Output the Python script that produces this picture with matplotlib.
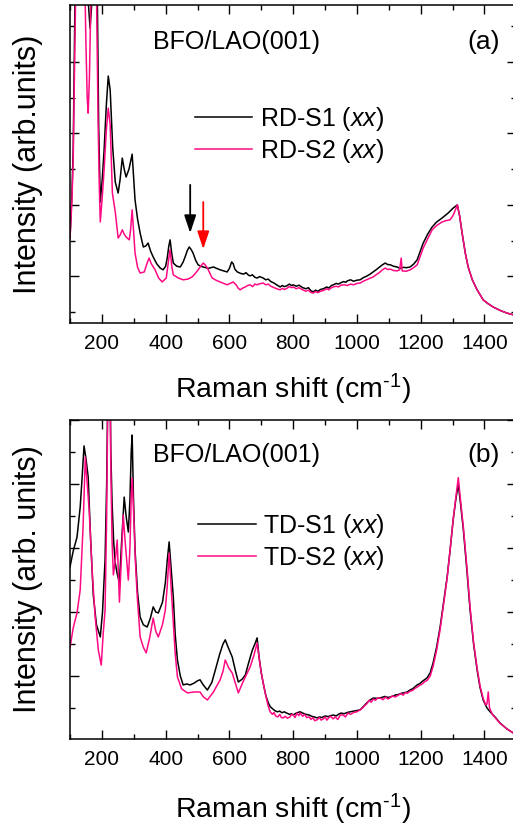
import matplotlib
matplotlib.use("Agg")
import matplotlib.pyplot as plt
from matplotlib.ticker import MultipleLocator, NullFormatter

plt.rcParams['font.family'] = ['Liberation Sans', 'DejaVu Sans']
plt.rcParams['mathtext.fontset'] = 'custom'
plt.rcParams['mathtext.rm'] = 'Liberation Sans'
plt.rcParams['mathtext.it'] = 'Liberation Sans:italic'

PINK = '#ff0a84'

# spectra as (Raman shift [cm-1], intensity [arb. units]) pairs
# (a) RD samples, xx geometry
rd_s1 = [(100, 307), (106, 430), (110, 554), (116, 1000), (125, 1400), (140, 1500), (150, 1200), (158, 960),
         (163, 895), (168, 960), (175, 1400), (182, 1300), (186, 960), (190, 620), (195, 408), (201, 470),
         (207, 554), (214, 680), (220, 761), (226, 722), (234, 560), (242, 464), (251, 433), (257, 470),
         (264, 531), (270, 500), (276, 478), (285, 500), (295, 542), (300, 470), (304, 414), (312, 360),
         (320, 321), (330, 282), (338, 285), (345, 293), (353, 270), (361, 254), (372, 235), (383, 223),
         (392, 218), (400, 228), (405, 251), (410, 285), (414, 302), (419, 265), (424, 237), (435, 228),
         (446, 226), (455, 240), (461, 254), (468, 272), (474, 282), (480, 275), (486, 265), (494, 245),
         (502, 232), (510, 228), (518, 226), (534, 222), (550, 226), (560, 222), (571, 218), (582, 215),
         (593, 212), (600, 222), (607, 240), (612, 235), (617, 220), (625, 212), (635, 208), (645, 206),
         (652, 210), (660, 203), (665, 201), (672, 204), (680, 197), (687, 195), (695, 199), (706, 195),
         (714, 190), (722, 192), (730, 185), (740, 181), (748, 176), (759, 170), (766, 174), (772, 171),
         (780, 173), (788, 178), (795, 174), (800, 176), (810, 172), (818, 175), (830, 168), (840, 165),
         (848, 168), (855, 160), (863, 156), (870, 161), (878, 158), (886, 163), (895, 165), (905, 170),
         (912, 167), (920, 174), (926, 176), (935, 180), (942, 178), (950, 182), (958, 185), (965, 183),
         (970, 187), (980, 190), (990, 186), (1000, 189), (1010, 190), (1020, 196), (1030, 200), (1040, 205),
         (1051, 212), (1060, 218), (1070, 225), (1080, 232), (1089, 237), (1096, 233), (1105, 232),
         (1115, 228), (1126, 226), (1135, 222), (1145, 225), (1155, 224), (1167, 226), (1178, 234),
         (1189, 246), (1198, 268), (1208, 293), (1222, 318), (1236, 338), (1250, 352), (1267, 363),
         (1286, 377), (1302, 391), (1315, 400), (1322, 370), (1330, 321), (1340, 265), (1349, 226),
         (1362, 190), (1377, 162), (1396, 134), (1410, 124), (1427, 114), (1450, 104), (1470, 97), (1490, 92)]

rd_s2 = [(100, 307), (106, 410), (110, 526), (116, 900), (122, 1200), (135, 1400), (145, 1100), (150, 850),
         (154, 700), (157, 657), (161, 760), (166, 1000), (175, 1300), (183, 1000), (188, 638), (192, 450),
         (195, 352), (201, 420), (207, 498), (214, 610), (220, 671), (226, 624), (233, 433), (242, 380),
         (251, 307), (257, 315), (264, 330), (270, 318), (276, 310), (286, 302), (290, 330), (295, 386),
         (300, 320), (304, 265), (312, 225), (320, 209), (333, 212), (340, 232), (348, 251), (355, 235),
         (367, 218), (378, 195), (389, 184), (402, 195), (410, 250), (414, 274), (419, 230), (424, 204),
         (440, 195), (455, 190), (470, 192), (483, 198), (495, 210), (502, 218), (510, 228), (518, 237),
         (524, 232), (531, 223), (546, 195), (560, 188), (571, 184), (593, 176), (612, 184), (622, 175),
         (628, 166), (634, 162), (642, 167), (650, 170), (657, 174), (665, 176), (673, 171), (680, 178),
         (687, 176), (695, 179), (706, 181), (714, 176), (722, 178), (730, 172), (740, 168), (748, 165),
         (759, 162), (766, 166), (772, 163), (780, 166), (788, 171), (795, 168), (800, 170), (810, 165),
         (818, 168), (830, 162), (840, 158), (848, 161), (855, 155), (863, 153), (870, 157), (878, 154),
         (886, 158), (895, 160), (905, 165), (912, 162), (920, 168), (926, 170), (935, 172), (942, 170),
         (950, 175), (960, 176), (970, 174), (980, 178), (990, 176), (1000, 180), (1010, 181), (1020, 186),
         (1030, 190), (1040, 194), (1051, 198), (1060, 204), (1070, 210), (1080, 218), (1089, 223),
         (1096, 219), (1105, 220), (1115, 216), (1126, 215), (1134, 218), (1139, 251), (1142, 215),
         (1155, 214), (1167, 218), (1178, 224), (1189, 232), (1198, 254), (1208, 279), (1222, 305),
         (1236, 330), (1250, 342), (1267, 352), (1280, 356), (1292, 358), (1300, 368), (1305, 377),
         (1315, 400), (1322, 370), (1330, 321), (1340, 265), (1349, 226), (1362, 190), (1377, 162),
         (1396, 134), (1410, 124), (1427, 114), (1450, 104), (1470, 97), (1490, 92)]

# (b) TD samples, xx geometry
td_s1 = [(100, 541), (110, 590), (122, 634), (132, 728), (138, 820), (144, 919), (150, 880), (157, 822),
         (165, 620), (173, 453), (183, 360), (195, 322), (202, 400), (210, 563), (215, 800), (220, 1200),
         (224, 1300), (228, 900), (232, 741), (237, 620), (242, 553), (248, 520), (255, 491), (262, 620),
         (270, 759), (276, 700), (283, 650), (288, 750), (292, 900), (295, 953), (299, 760), (304, 594),
         (312, 460), (320, 384), (330, 360), (342, 353), (352, 380), (361, 416), (369, 400), (377, 397),
         (390, 430), (399, 491), (405, 560), (411, 619), (417, 540), (424, 447), (430, 330), (437, 250),
         (446, 200), (455, 172), (466, 175), (477, 172), (490, 178), (500, 185), (508, 188), (518, 172),
         (531, 156), (545, 180), (556, 219), (570, 270), (580, 300), (587, 313), (596, 290), (609, 259),
         (618, 220), (628, 181), (640, 190), (650, 203), (660, 240), (672, 281), (680, 300), (687, 319),
         (693, 260), (700, 210), (706, 178), (714, 140), (722, 116), (728, 104), (735, 98), (742, 92),
         (750, 88), (758, 90), (765, 85), (772, 88), (780, 84), (788, 80), (795, 82), (800, 78), (808, 83),
         (815, 86), (822, 88), (830, 84), (840, 80), (850, 78), (858, 74), (866, 72), (875, 69), (883, 72),
         (890, 70), (900, 75), (910, 73), (918, 76), (926, 78), (935, 75), (942, 80), (950, 84), (960, 82),
         (970, 86), (979, 88), (990, 90), (1000, 92), (1010, 94), (1020, 104), (1030, 115), (1040, 124),
         (1051, 131), (1062, 130), (1075, 132), (1088, 136), (1096, 133), (1104, 134), (1115, 138),
         (1122, 141), (1130, 142), (1140, 146), (1150, 148), (1158, 150), (1166, 156), (1175, 160),
         (1182, 166), (1189, 172), (1197, 176), (1205, 183), (1212, 188), (1220, 194), (1230, 210),
         (1239, 241), (1250, 290), (1261, 353), (1272, 430), (1283, 509), (1293, 600), (1302, 688),
         (1310, 750), (1318, 800), (1326, 730), (1334, 656), (1345, 530), (1355, 406), (1366, 300),
         (1377, 219), (1386, 165), (1396, 125), (1408, 100), (1418, 88), (1435, 70), (1449, 53),
         (1470, 35), (1490, 22)]

td_s2 = [(100, 288), (110, 350), (122, 397), (132, 469), (141, 666), (148, 884), (154, 800), (160, 719),
         (170, 520), (179, 384), (189, 280), (198, 234), (204, 330), (210, 406), (215, 700), (220, 1200),
         (224, 1300), (228, 850), (232, 620), (236, 516), (242, 560), (248, 625), (255, 431), (261, 560),
         (267, 703), (273, 620), (283, 500), (288, 600), (292, 760), (295, 819), (300, 700), (305, 560),
         (311, 447), (320, 322), (330, 290), (339, 272), (350, 320), (361, 381), (369, 340), (377, 322),
         (390, 360), (399, 406), (405, 480), (411, 584), (417, 480), (424, 366), (430, 270), (437, 197),
         (450, 160), (468, 147), (490, 150), (508, 150), (518, 135), (531, 125), (550, 150), (571, 188),
         (580, 215), (587, 250), (598, 225), (609, 209), (618, 180), (628, 147), (642, 180), (656, 209),
         (665, 228), (677, 265), (687, 303), (694, 250), (700, 210), (706, 178), (716, 130), (722, 105),
         (728, 88), (735, 80), (740, 86), (745, 75), (752, 72), (758, 80), (763, 70), (769, 69), (775, 74),
         (782, 68), (790, 72), (795, 80), (800, 78), (806, 70), (812, 84), (818, 76), (822, 84), (830, 74),
         (836, 80), (843, 70), (850, 72), (856, 64), (862, 70), (868, 60), (875, 63), (882, 70), (888, 62),
         (895, 66), (900, 72), (906, 62), (912, 70), (918, 74), (925, 66), (932, 72), (940, 64), (948, 78),
         (957, 78), (964, 72), (972, 84), (980, 80), (990, 86), (1000, 88), (1010, 94), (1018, 100),
         (1025, 108), (1030, 112), (1038, 124), (1045, 118), (1051, 128), (1058, 124), (1066, 132),
         (1075, 130), (1082, 126), (1090, 134), (1097, 128), (1104, 132), (1112, 138), (1120, 134),
         (1130, 140), (1138, 145), (1145, 140), (1152, 148), (1158, 146), (1166, 152), (1175, 155),
         (1183, 162), (1189, 165), (1196, 170), (1205, 175), (1212, 182), (1220, 186), (1230, 200),
         (1239, 230), (1250, 280), (1261, 345), (1272, 425), (1283, 505), (1293, 600), (1302, 690),
         (1310, 755), (1318, 820), (1326, 740), (1334, 665), (1345, 540), (1355, 415), (1366, 305),
         (1377, 225), (1386, 170), (1396, 130), (1404, 110), (1408, 112), (1412, 150), (1416, 100),
         (1425, 80), (1435, 68), (1449, 52), (1470, 35), (1490, 22)]

# arrows marking modes in (a): (shift, tail intensity, tip intensity)
arrow_black = (477, 456, 321)
arrow_red = (518, 408, 276)


def style_axes(ax, ylim, ylabel, tag, title_y, xlabel_y, ylabel_x):
    ax.set_xlim(100, 1500)
    ax.set_ylim(*ylim)
    ax.xaxis.set_major_locator(MultipleLocator(200))
    ax.xaxis.set_minor_locator(MultipleLocator(100))
    ax.yaxis.set_major_locator(MultipleLocator(200))
    ax.yaxis.set_minor_locator(MultipleLocator(100))
    ax.yaxis.set_major_formatter(NullFormatter())
    ax.tick_params(which='both', direction='in', top=True, right=True, width=1.0)
    ax.tick_params(which='major', length=6.5)
    ax.tick_params(which='minor', length=3.6)
    ax.tick_params(axis='x', labelsize=15, pad=8)
    for sp in ax.spines.values():
        sp.set_linewidth(1.1)
    ax.set_xlabel('Raman shift (cm$^{\\text{-1}}$)', fontsize=20.5, va='center')
    ax.xaxis.set_label_coords(0.5, xlabel_y)
    ax.set_ylabel(ylabel, fontsize=22, va='center')
    ax.yaxis.set_label_coords(ylabel_x, 0.5)
    ax.text(0.186, title_y, 'BFO/LAO(001)', transform=ax.transAxes, fontsize=18,
            ha='left', va='center')
    ax.text(0.9635, title_y, tag, transform=ax.transAxes, fontsize=19,
            ha='right', va='center')


def plot_pair(ax, s1, s2, lab1, lab2):
    x1, y1 = zip(*s1)
    x2, y2 = zip(*s2)
    ax.plot(x1, y1, color='black', lw=1.1, label=lab1)
    ax.plot(x2, y2, color=PINK, lw=1.1, label=lab2)


def add_arrow(ax, arrow, color):
    x, y_tail, y_tip = arrow
    ax.annotate('', xy=(x, y_tip), xytext=(x, y_tail),
                arrowprops=dict(arrowstyle='-|>,head_length=0.6,head_width=0.2', color=color,
                                lw=1.3, mutation_scale=18, shrinkA=0, shrinkB=0))


fig = plt.figure(figsize=(5.13, 8.27), dpi=100)
ax_a = fig.add_axes([70 / 513, 504 / 827, 446.3 / 513, 318 / 827])
ax_b = fig.add_axes([70 / 513, 88 / 827, 446.3 / 513, 319 / 827])

plot_pair(ax_a, rd_s1, rd_s2, 'RD-S1 ($\\mathit{xx}$)', 'RD-S2 ($\\mathit{xx}$)')
style_axes(ax_a, (69, 960), 'Intensity (arb.units)', '(a)', 0.884, -0.2075, -0.094)
ax_a.legend(loc='upper left', bbox_to_anchor=(0.280, 0.685), frameon=False, fontsize=18,
            handlelength=2.3, handletextpad=0.3, labelspacing=0.15, borderpad=0, borderaxespad=0)
add_arrow(ax_a, arrow_black, 'black')
add_arrow(ax_a, arrow_red, 'red')

plot_pair(ax_b, td_s1, td_s2, 'TD-S1 ($\\mathit{xx}$)', 'TD-S2 ($\\mathit{xx}$)')
style_axes(ax_b, (3, 1000), 'Intensity (arb. units)', '(b)', 0.890, -0.222, -0.094)
ax_b.legend(loc='upper left', bbox_to_anchor=(0.287, 0.712), frameon=False, fontsize=18,
            handlelength=2.3, handletextpad=0.3, labelspacing=0.15, borderpad=0, borderaxespad=0)

fig.savefig('out.png', dpi=100)
